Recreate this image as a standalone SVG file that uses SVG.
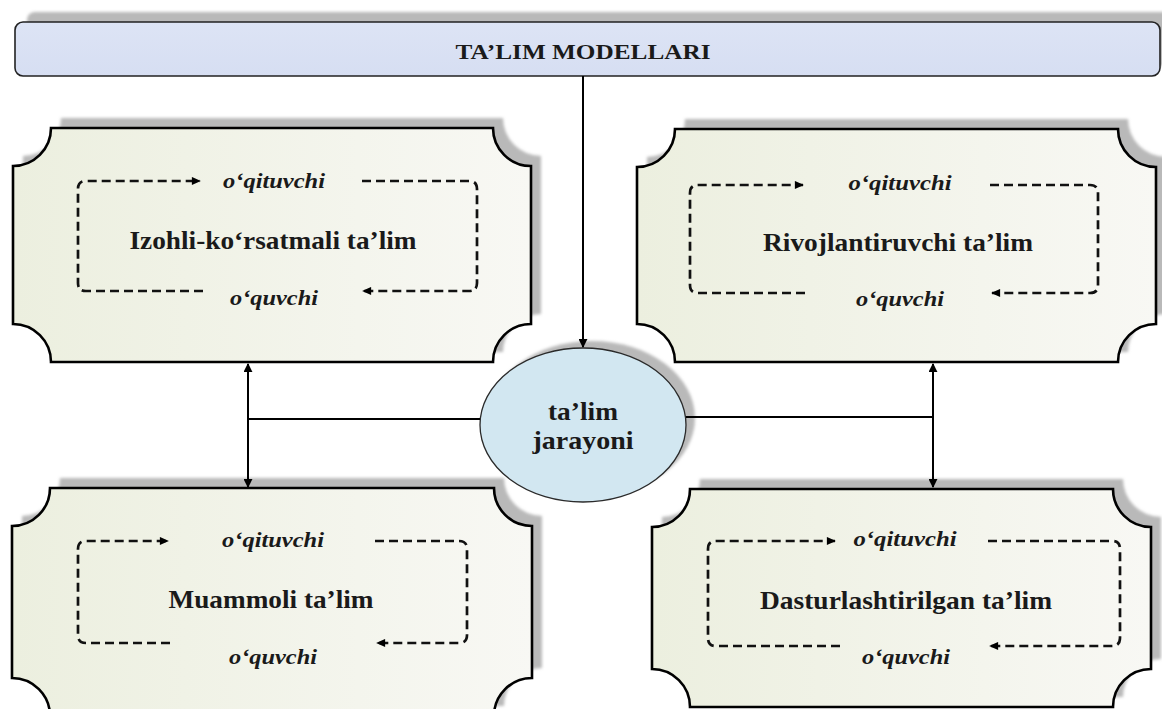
<svg xmlns="http://www.w3.org/2000/svg" width="1162" height="709" viewBox="0 0 1162 709">
<defs>
<linearGradient id="boxFill" x1="0" y1="0" x2="1" y2="0">
<stop offset="0" stop-color="#ecefdf"/>
<stop offset="1" stop-color="#f8f8f4"/>
</linearGradient>
<linearGradient id="titleFill" x1="0" y1="0" x2="0" y2="1">
<stop offset="0" stop-color="#dde4f5"/>
<stop offset="1" stop-color="#d6def2"/>
</linearGradient>
<filter id="blur" x="-5%" y="-5%" width="110%" height="110%"><feGaussianBlur stdDeviation="1.5"/></filter>
<marker id="arr" viewBox="0 0 10 10" refX="9" refY="5" markerWidth="9" markerHeight="9" markerUnits="userSpaceOnUse" orient="auto">
<path d="M0,0 L10,5 L0,10 Z" fill="#000"/>
</marker>
<marker id="darr" viewBox="0 0 10 10" refX="9" refY="5" markerWidth="10" markerHeight="9" markerUnits="userSpaceOnUse" orient="auto">
<path d="M0,0.5 L10,5 L0,9.5 Z" fill="#000"/>
</marker>
</defs>
<style>
.shadow{fill:#b9b9b9;filter:url(#blur)}
.box{fill:url(#boxFill);stroke:#000;stroke-width:2.6}
.loop{fill:none;stroke:#111;stroke-width:2.7;stroke-dasharray:9 5}
.conn{fill:none;stroke:#000;stroke-width:2}
.main{font-family:"Liberation Serif","Times New Roman",serif;font-weight:bold;font-size:25px;fill:#1a1a1a;text-anchor:middle}
.role{font-family:"Liberation Serif","Times New Roman",serif;font-weight:bold;font-style:italic;font-size:21px;fill:#1a1a1a;text-anchor:middle}
.title{font-family:"Liberation Serif","Times New Roman",serif;font-weight:bold;font-size:22px;fill:#1a1a1a;text-anchor:middle}
</style>

<g id="title">
<rect class="shadow" x="27" y="12" width="1145" height="54" rx="8"/>
<rect x="15" y="22" width="1145" height="54" rx="8" fill="url(#titleFill)" stroke="#222" stroke-width="1.6"/>
<text class="title" x="583" y="59" textLength="255" lengthAdjust="spacingAndGlyphs">TA’LIM MODELLARI</text>
</g>

<g id="box-izohli">
<path class="shadow" transform="translate(10,-10)" d="M51 128 L493 128 A38 38 0 0 0 531 166 L531 324 A38 38 0 0 0 493 362 L51 362 A38 38 0 0 0 13 324 L13 166 A38 38 0 0 0 51 128 Z"/>
<path class="box" d="M51 128 L493 128 A38 38 0 0 0 531 166 L531 324 A38 38 0 0 0 493 362 L51 362 A38 38 0 0 0 13 324 L13 166 A38 38 0 0 0 51 128 Z"/>
<path class="loop" marker-end="url(#darr)" d="M203 291 L86 291 Q78 291 78 283 L78 189 Q78 181 86 181 L200 181"/>
<path class="loop" marker-end="url(#darr)" d="M362 181 L469 181 Q477 181 477 189 L477 283 Q477 291 469 291 L363 291"/>
<text class="role" x="274" y="188" textLength="102" lengthAdjust="spacingAndGlyphs">o‘qituvchi</text>
<text class="main" x="273" y="249" textLength="287" lengthAdjust="spacingAndGlyphs">Izohli-ko‘rsatmali ta’lim</text>
<text class="role" x="274" y="305" textLength="88" lengthAdjust="spacingAndGlyphs">o‘quvchi</text>
</g>

<g id="box-rivojlantiruvchi">
<path class="shadow" transform="translate(10,-10)" d="M675 129 L1118 129 A38 38 0 0 0 1156 167 L1156 324 A38 38 0 0 0 1118 362 L675 362 A38 38 0 0 0 637 324 L637 167 A38 38 0 0 0 675 129 Z"/>
<path class="box" d="M675 129 L1118 129 A38 38 0 0 0 1156 167 L1156 324 A38 38 0 0 0 1118 362 L675 362 A38 38 0 0 0 637 324 L637 167 A38 38 0 0 0 675 129 Z"/>
<path class="loop" marker-end="url(#darr)" d="M805 293 L698 293 Q690 293 690 285 L690 193 Q690 185 698 185 L803 185"/>
<path class="loop" marker-end="url(#darr)" d="M990 185 L1090 185 Q1098 185 1098 193 L1098 285 Q1098 293 1090 293 L992 293"/>
<text class="role" x="900" y="190" textLength="103" lengthAdjust="spacingAndGlyphs">o‘qituvchi</text>
<text class="main" x="898" y="251" textLength="270" lengthAdjust="spacingAndGlyphs">Rivojlantiruvchi ta’lim</text>
<text class="role" x="900" y="306" textLength="88" lengthAdjust="spacingAndGlyphs">o‘quvchi</text>
</g>

<g id="box-muammoli">
<path class="shadow" transform="translate(10,-10)" d="M50 488 L494 488 A38 38 0 0 0 532 526 L532 678 A38 38 0 0 0 494 716 L50 716 A38 38 0 0 0 12 678 L12 526 A38 38 0 0 0 50 488 Z"/>
<path class="box" d="M50 488 L494 488 A38 38 0 0 0 532 526 L532 678 A38 38 0 0 0 494 716 L50 716 A38 38 0 0 0 12 678 L12 526 A38 38 0 0 0 50 488 Z"/>
<path class="loop" marker-end="url(#darr)" d="M170 643 L86 643 Q78 643 78 635 L78 549 Q78 541 86 541 L168 541"/>
<path class="loop" marker-end="url(#darr)" d="M375 541 L459 541 Q467 541 467 549 L467 635 Q467 643 459 643 L377 643"/>
<text class="role" x="273" y="547" textLength="102" lengthAdjust="spacingAndGlyphs">o‘qituvchi</text>
<text class="main" x="271" y="608" textLength="205" lengthAdjust="spacingAndGlyphs">Muammoli ta’lim</text>
<text class="role" x="273" y="664" textLength="88" lengthAdjust="spacingAndGlyphs">o‘quvchi</text>
</g>

<g id="box-dasturlashtirilgan">
<path class="shadow" transform="translate(10,-10)" d="M690 489 L1113 489 A38 38 0 0 0 1151 527 L1151 669 A38 38 0 0 0 1113 707 L690 707 A38 38 0 0 0 652 669 L652 527 A38 38 0 0 0 690 489 Z"/>
<path class="box" d="M690 489 L1113 489 A38 38 0 0 0 1151 527 L1151 669 A38 38 0 0 0 1113 707 L690 707 A38 38 0 0 0 652 669 L652 527 A38 38 0 0 0 690 489 Z"/>
<path class="loop" marker-end="url(#darr)" d="M840 646 L716 646 Q708 646 708 638 L708 549 Q708 541 716 541 L835 541"/>
<path class="loop" marker-end="url(#darr)" d="M988 541 L1112 541 Q1120 541 1120 549 L1120 638 Q1120 646 1112 646 L990 646"/>
<text class="role" x="905" y="546" textLength="103" lengthAdjust="spacingAndGlyphs">o‘qituvchi</text>
<text class="main" x="906" y="609" textLength="292" lengthAdjust="spacingAndGlyphs">Dasturlashtirilgan ta’lim</text>
<text class="role" x="906" y="664" textLength="88" lengthAdjust="spacingAndGlyphs">o‘quvchi</text>
</g>

<g id="center">
<ellipse class="shadow" cx="592" cy="418" rx="103" ry="77"/>
<ellipse cx="583" cy="425" rx="103" ry="77" fill="#d2e7f1" stroke="#2a2a2a" stroke-width="1.3"/>
<text class="main" x="583" y="420" font-size="24" textLength="70" lengthAdjust="spacingAndGlyphs">ta’lim</text>
<text class="main" x="583" y="449" font-size="24" textLength="101" lengthAdjust="spacingAndGlyphs">jarayoni</text>
</g>

<g id="connectors">
<line class="conn" x1="583" y1="76" x2="583" y2="347" marker-end="url(#arr)"/>
<line class="conn" x1="480" y1="419" x2="248" y2="419"/>
<line class="conn" x1="248" y1="419" x2="248" y2="364" marker-end="url(#arr)"/>
<line class="conn" x1="248" y1="419" x2="248" y2="487" marker-end="url(#arr)"/>
<line class="conn" x1="686" y1="417" x2="933" y2="417"/>
<line class="conn" x1="933" y1="417" x2="933" y2="364" marker-end="url(#arr)"/>
<line class="conn" x1="933" y1="417" x2="933" y2="487" marker-end="url(#arr)"/>
</g>
</svg>
